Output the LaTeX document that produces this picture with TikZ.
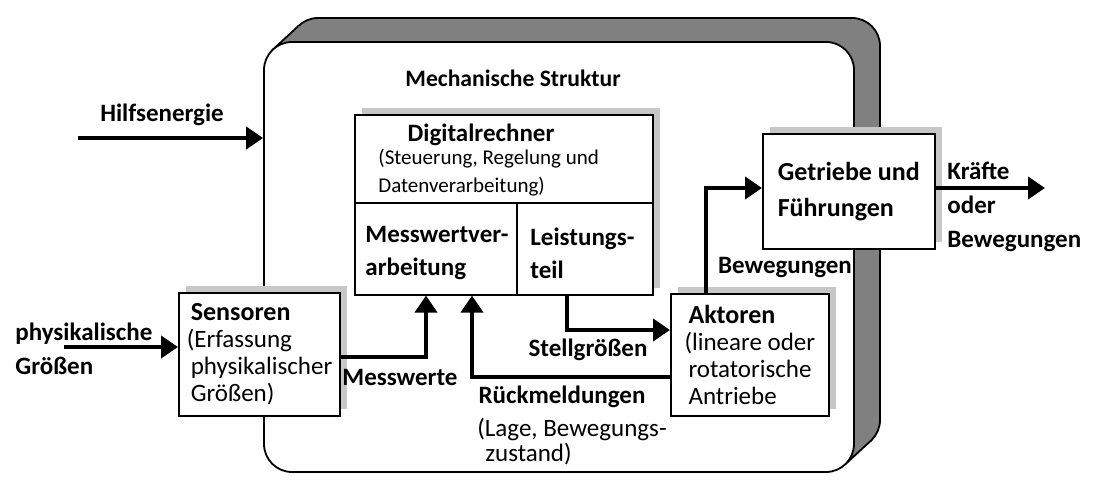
\documentclass[tikz,border=0pt]{standalone}
\usepackage{fontspec}
\setmainfont{Carlito}
\usetikzlibrary{arrows.meta, positioning, shadows}

\begin{document}
\begin{tikzpicture}[
  x=0.5pt, y=-0.5pt,
  every node/.style={font=\fontsize{12.5}{13.5}\selectfont, inner sep=0pt},
  frame/.style={draw, line width=0.9pt, rounded corners=14pt, minimum width=295pt, minimum height=215pt},
  block/.style={draw, line width=0.8pt, fill=white, anchor=north west, align=left, inner xsep=4pt,
    drop shadow={shadow xshift=3.5pt, shadow yshift=3.5pt, fill=black!22, opacity=1}},
  sig/.style={font=\fontsize{12.5}{17}\selectfont\bfseries},
  flow/.style={line width=2pt, -{Triangle[length=8.5pt, width=11pt]}}
]
\useasboundingbox (0,0) rectangle (1093,491);
\node[frame, fill=black!50] (rueck) at (585,233) {};
\fill[black!50] (272.2,50.2) -- (298.2,26.2) -- (871.8,439.8) -- (845.8,463.8) -- cycle;
\draw[line width=0.9pt] (272.2,50.2) -- (298.2,26.2) (871.8,439.8) -- (845.8,463.8);
\node[frame, fill=white] (struktur) at (559,257) {};
\node[sig, font=\fontsize{11.8}{14}\selectfont\bfseries] (strukturtext) at (513,78) {Mechanische Struktur};

\node[block, minimum width=149pt, minimum height=90pt] (rechner) at (354,114) {};
\draw[line width=0.8pt] (rechner.west |- 0,203) -- (rechner.east |- 0,203);
\draw[line width=0.8pt] (517,203) -- (517,203 |- rechner.south);
\node[sig] (rechnername) at (481,135) {Digitalrechner};
\node[anchor=west, align=left, font=\fontsize{10.5}{14}\selectfont] (rechnerinfo) at (378,173)
  {(Steuerung, Regelung und\\Datenverarbeitung)};
\node[sig, anchor=west, align=left, font=\fontsize{12.5}{16.5}\selectfont\bfseries] (messverarb) at (365,253.5)
  {Messwertver-\\arbeitung};
\node[sig, anchor=west, align=left, font=\fontsize{12.5}{16.5}\selectfont\bfseries] (leistung) at (530,253.5)
  {Leistungs-\\teil};

\node[block, minimum width=79pt, minimum height=61.5pt] (sensor) at (178,292)
  {{\fontsize{13}{15}\selectfont\bfseries\hspace*{2pt}Sensoren}\\(Erfassung\\\hspace*{2pt}physikalischer\\\hspace*{2pt}Größen)};
\node[block, minimum width=79pt, minimum height=61pt] (aktor) at (670,293)
  {{\fontsize{13}{15}\selectfont\bfseries\hspace*{2pt}Aktoren}\\(lineare oder\\\hspace*{2pt}rotatorische\\\hspace*{2pt}Antriebe};
\node[block, minimum width=86pt, minimum height=57.5pt, font=\fontsize{13}{18}\selectfont\bfseries] (getriebe) at (762,133)
  {Getriebe und\\Führungen};

\coordinate (hilfe) at (78,138);
\coordinate (physik) at (64,347);
\coordinate (messknick) at (426,357);
\coordinate (stellknick) at (567,330);
\coordinate (rueckknick) at (472,377);
\coordinate (bewegknick) at (706,188);
\coordinate (kraftende) at (1045,188);

\draw[flow] (hilfe) -- (struktur.west |- hilfe);
\draw[flow] (physik) -- (sensor.west |- physik);
\draw[flow] (sensor.east |- messknick) -- (messknick) -- (messknick |- rechner.south);
\draw[flow] (stellknick |- rechner.south) -- (stellknick) -- (aktor.west |- stellknick);
\draw[flow] (aktor.west |- rueckknick) -- (rueckknick) -- (rueckknick |- rechner.south);
\draw[flow] (bewegknick |- aktor.north) -- (bewegknick) -- (getriebe.west |- bewegknick);
\draw[flow] (getriebe.east |- kraftende) -- (kraftende);

\node[sig] (hilfstext) at (162,115) {Hilfsenergie};
\node[sig, anchor=west, align=left] (physiktext) at (15,349) {physikalische\\Größen};
\node[sig] (messtext) at (400,377) {Messwerte};
\node[sig] (stelltext) at (588,350) {Stellgrößen};
\node[sig] (rueckmeld) at (562,397) {Rückmeldungen};
\node[anchor=west, align=left, font=\fontsize{12.5}{12.5}\selectfont] (rueckinfo) at (477,442)
  {(Lage, Bewegungs-\\\hspace*{4pt}zustand)};
\node[sig] (bewegtext) at (785,268) {Bewegungen};
\node[sig, anchor=west, align=left] (krafttext) at (947,207) {Kräfte\\oder\\Bewegungen};
\end{tikzpicture}
\end{document}
